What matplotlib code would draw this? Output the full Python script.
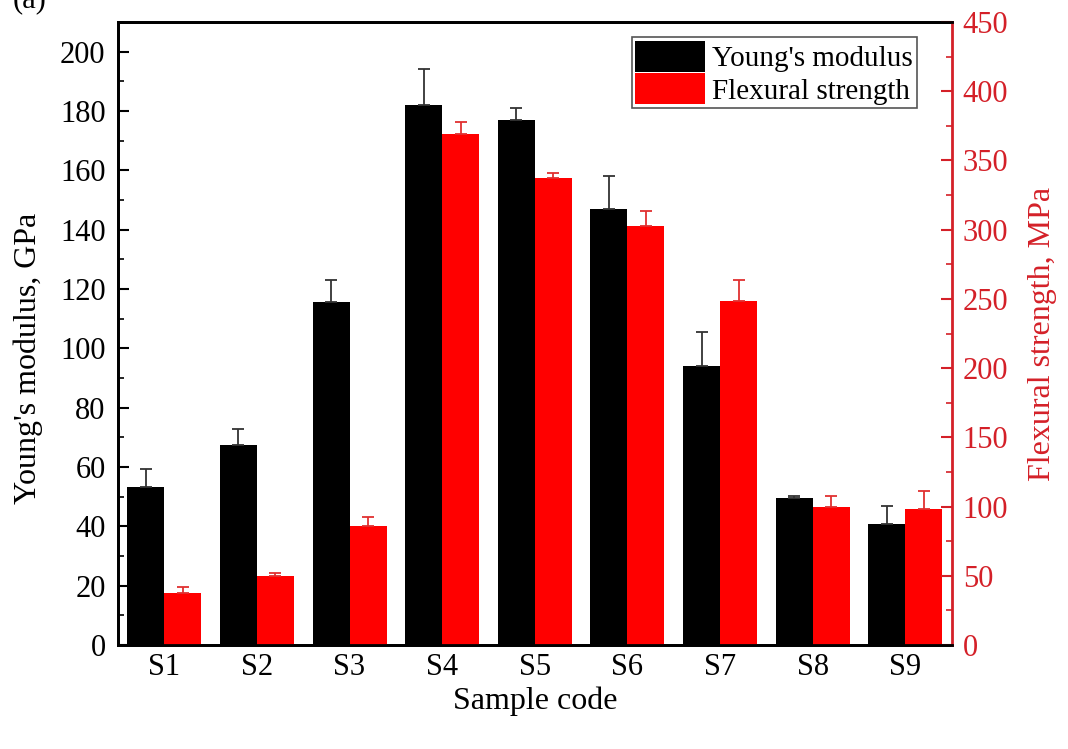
import matplotlib
matplotlib.use("Agg")
from matplotlib import pyplot as plt
from matplotlib.ticker import MultipleLocator
import numpy as np

# ---------------------------
# datos
# ---------------------------
samples = ["S1", "S2", "S3", "S4", "S5", "S6", "S7", "S8", "S9"]

young = [53.4, 67.4, 115.5, 182.1, 177.1, 147.0, 93.9, 49.5, 40.7]      # GPa
young_err = [6.0, 5.3, 7.5, 12.1, 4.0, 11.0, 11.5, 0.6, 6.2]

flex = [37.4, 49.9, 86.3, 368.9, 337.0, 302.6, 248.3, 100.0, 98.1]      # MPa
flex_err = [4.3, 2.4, 6.5, 9.1, 4.0, 10.8, 15.2, 7.8, 13.3]

plt.rcParams["font.family"] = ["Liberation Serif", "DejaVu Serif"]
red_axis = "#d42028"

fig = plt.figure(figsize=(10.68, 7.49), dpi=100)
ax = fig.add_axes([0.1105, 0.1388, 0.7805, 0.8318])
ax2 = ax.twinx()

x = np.arange(len(samples))
w = 0.4

ax.bar(x - w / 2, young, width=w, color="black", label="Young's modulus",
       yerr=[np.zeros(len(young)), young_err], capsize=4,
       error_kw=dict(ecolor="#333333", elinewidth=1.3, capthick=1.3))
ax2.bar(x + w / 2, flex, width=w, color="#ff0000", label="Flexural strength",
        yerr=[np.zeros(len(flex)), flex_err], capsize=4,
        error_kw=dict(ecolor="#e03030", elinewidth=1.3, capthick=1.3))

# ---------------------------
# ejes
# ---------------------------
ax.set_xlim(-0.5, 8.5)
ax.set_ylim(0, 210)
ax2.set_ylim(0, 450)

ax.set_xticks(x)
ax.set_xticklabels(samples)
ax.yaxis.set_major_locator(MultipleLocator(20))
ax.yaxis.set_minor_locator(MultipleLocator(10))
ax2.yaxis.set_major_locator(MultipleLocator(50))
ax2.yaxis.set_minor_locator(MultipleLocator(25))

ax.tick_params(axis="x", length=0, labelsize=22, pad=6)
ax.tick_params(axis="y", which="major", direction="in", length=8, width=1.5,
               labelsize=22, pad=9)
ax.tick_params(axis="y", which="minor", direction="in", length=4, width=1.2)
ax2.tick_params(axis="y", which="major", direction="in", length=8, width=1.5,
                labelsize=22, colors=red_axis, pad=8)
ax2.tick_params(axis="y", which="minor", direction="in", length=4, width=1.2, colors=red_axis)

for s in ["left", "bottom", "top"]:
    ax.spines[s].set_linewidth(2)
    ax2.spines[s].set_linewidth(2)
ax2.spines["right"].set_color(red_axis)
ax2.spines["right"].set_linewidth(2)
ax.spines["right"].set_visible(False)

ax.set_xlabel("Sample code", fontsize=23, labelpad=3)
ax.set_ylabel("Young's modulus, GPa", fontsize=23, labelpad=2)
ax.yaxis.set_label_coords(-0.09, 0.46)
ax2.set_ylabel("Flexural strength, MPa", fontsize=23, color=red_axis, labelpad=14)

# leyenda combinada
h1, l1 = ax.get_legend_handles_labels()
h2, l2 = ax2.get_legend_handles_labels()
leg = ax2.legend(h1 + h2, l1 + l2, loc="upper right", bbox_to_anchor=(0.965, 0.985),
                 fontsize=21, fancybox=False, framealpha=1, edgecolor="#555555",
                 handlelength=2.4, handleheight=1.25, labelspacing=0.05,
                 borderpad=0.12, handletextpad=0.25, borderaxespad=0.2)
leg.get_frame().set_linewidth(1.2)

fig.text(0.012, 1.0, "(a)", fontsize=22, va="center", ha="left")

fig.savefig("out.png", dpi=100)
